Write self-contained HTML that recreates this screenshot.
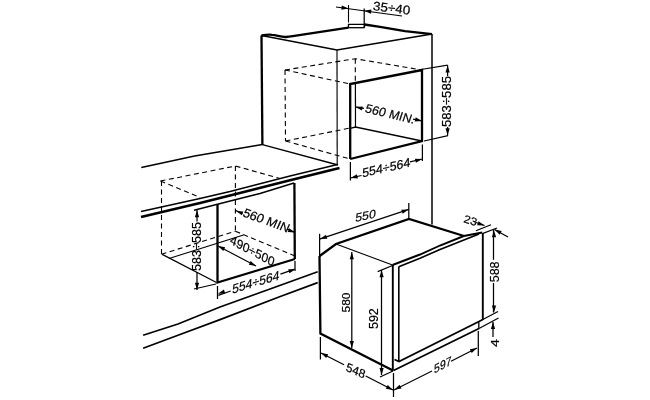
<!DOCTYPE html>
<html><head><meta charset="utf-8"><style>
html,body{margin:0;padding:0;background:#fff;width:650px;height:400px;overflow:hidden}
svg{display:block;will-change:transform}
path{fill:none;stroke:#000;stroke-linecap:butt;stroke-linejoin:miter}
path.ah{fill:#000;stroke:none}
text{font-family:"Liberation Sans",sans-serif;fill:#000;stroke:#000;stroke-width:0.2px;text-anchor:start}
</style></head><body>
<svg width="650" height="400" viewBox="0 0 650 400">
<path d="M348.5 27.7 L348.5 24.3 L364.5 24.3 L364.5 27.7" stroke-width="1.3"/>
<path d="M348.5 27.7 L364.5 27.7" stroke-width="1.3"/>
<path d="M364.5 24.5 L380 26.8 L405 31.2 L432 34.2" stroke-width="2.3"/>
<path d="M261.5 35.5 L337 50 L432 34" stroke-width="1.4"/>
<path d="M261.5 35.5 L262.4 145" stroke-width="2.3"/>
<path d="M337 50 L337.2 165" stroke-width="1.15"/>
<path d="M432 34 L432 224.5" stroke-width="1.5"/>
<path d="M350.2 159 L350.2 84 L422 70 L422 141 L350.2 159" stroke-width="2.3"/>
<path d="M355.4 84 L355.5 127" stroke-width="1.2"/>
<path d="M350.2 128.3 L355.5 127 L422 141" stroke-width="1.3"/>
<path d="M285 70 L285.5 141" stroke-width="1.1" stroke-dasharray="5 3.5"/>
<path d="M285 70 L355.3 58.7 L422 70" stroke-width="1.1" stroke-dasharray="5 3.5"/>
<path d="M285 70 L350.2 84" stroke-width="1.1" stroke-dasharray="5 3.5"/>
<path d="M355.3 58.7 L355.3 84" stroke-width="1.1" stroke-dasharray="5 3.5"/>
<path d="M285.5 141 L350.2 128" stroke-width="1.1" stroke-dasharray="5 3.5"/>
<path d="M285.5 141 L350.2 159" stroke-width="1.1" stroke-dasharray="5 3.5"/>
<path d="M336 7 L402 16" stroke-width="1.25"/>
<path d="M348.5 5 L348.5 22.5" stroke-width="1.1"/>
<path d="M364.2 8.5 L364.2 27" stroke-width="1.25"/>
<path d="M355.3 106.8 L364 108.3" stroke-width="1.25"/>
<path d="M413 119.2 L422 121" stroke-width="1.25"/>
<path d="M421 69.5 L447.6 65.2" stroke-width="1.25"/>
<path d="M424 141 L448 135.6" stroke-width="1.25"/>
<path d="M447.6 65.2 L447.6 76" stroke-width="1.25"/>
<path d="M447.6 127 L447.6 135.6" stroke-width="1.25"/>
<path d="M350.4 162 L350.4 180.5" stroke-width="1.25"/>
<path d="M422.4 144.5 L422.4 161" stroke-width="1.25"/>
<path d="M350.4 178 L361.5 175.5" stroke-width="1.25"/>
<path d="M410 161.8 L422.4 159" stroke-width="1.25"/>
<path d="M141.3 167.5 L194.6 156 L262.4 144.6" stroke-width="1.5"/>
<path d="M262.4 144.6 L338 165" stroke-width="1.4"/>
<path d="M141 211.5 L200 198.5 L230 191.5 L290 176 L337.5 164.5" stroke-width="1.4"/>
<path d="M141 217 L200 203 L230 195.5 L290 180.3 L339.5 168" stroke-width="2.7"/>
<path d="M194 210.2 L240 198.5 L260 193.5 L294 183" stroke-width="1.4"/>
<path d="M217.5 204 L217.5 282.5 L295 259" stroke-width="2.3"/>
<path d="M294.4 183 L294.8 259" stroke-width="2.3"/>
<path d="M160.5 181 L235.5 166" stroke-width="1.1" stroke-dasharray="5 3.5"/>
<path d="M160.5 181 L200 197.4" stroke-width="1.1" stroke-dasharray="5 3.5"/>
<path d="M235.5 166 L280 178.5" stroke-width="1.1" stroke-dasharray="5 3.5"/>
<path d="M161.5 181 L161.5 254.2" stroke-width="1.1" stroke-dasharray="5 3.5"/>
<path d="M235.4 166 L235.4 231.2" stroke-width="1.1" stroke-dasharray="5 3.5"/>
<path d="M161.5 254.2 L235.4 231.2" stroke-width="1.1" stroke-dasharray="5 3.5"/>
<path d="M169 258.5 L243.5 235" stroke-width="1.2"/>
<path d="M235.4 231.2 L295 256" stroke-width="1.1" stroke-dasharray="5 3.5"/>
<path d="M162.2 254.4 L216.5 282.5" stroke-width="1.25"/>
<path d="M197 210 L197 221.5" stroke-width="1.25"/>
<path d="M197 272 L197 290" stroke-width="1.25"/>
<path d="M194 289 L216 284" stroke-width="1.25"/>
<path d="M235.4 210.2 L242.4 213.5" stroke-width="1.25"/>
<path d="M287 229 L294.6 232.3" stroke-width="1.25"/>
<path d="M218 246 L256 266" stroke-width="1.25"/>
<path d="M217.5 286 L217.5 299" stroke-width="1.25"/>
<path d="M295 261 L295 271" stroke-width="1.25"/>
<path d="M218.3 295.3 L230.7 291" stroke-width="1.25"/>
<path d="M280.4 274.2 L294.7 269.2" stroke-width="1.25"/>
<path d="M143.1 335.3 L178 324 L220 307 L270 289 L317.7 271.8" stroke-width="1.7"/>
<path d="M143.1 348.2 L178 335.3 L220 319.6 L279.6 296.8 L317.7 282.6" stroke-width="1.7"/>
<path d="M319.6 256 L336 244 L409 219 L464 236" stroke-width="2.3"/>
<path d="M319.5 256 L320.4 333.6 L393 370.5" stroke-width="2.3"/>
<path d="M336 244 L392.5 265" stroke-width="1.2"/>
<path d="M392.8 265 L392.8 370.5" stroke-width="1.9"/>
<path d="M398.8 266.5 L398.8 361" stroke-width="1.6"/>
<path d="M392.5 265 L420 254.5 L440 245.5 L463.8 236 L482.3 232.5" stroke-width="1.9"/>
<path d="M398.8 266.8 L420 258.2 L440 249.5 L479 234" stroke-width="1.7"/>
<path d="M482.8 233 L482.8 320" stroke-width="1.9"/>
<path d="M394.5 359.5 L399 361.5 L479 321.5 L482.8 319.5" stroke-width="1.8"/>
<path d="M393.5 370.5 L479 328.5" stroke-width="1.8"/>
<path d="M478.8 321.5 L478.8 328.5" stroke-width="1.3"/>
<path d="M319.6 256 L319.6 233.8" stroke-width="1.25"/>
<path d="M408.8 219 L408.8 203" stroke-width="1.25"/>
<path d="M319.6 239.2 L408.8 209.3" stroke-width="1.25"/>
<path d="M351.8 252 L351.8 348" stroke-width="1.25"/>
<path d="M377.7 271.6 L392.5 265.5" stroke-width="1.25"/>
<path d="M380 377 L393 371" stroke-width="1.25"/>
<path d="M381.5 270 L381.5 375" stroke-width="1.25"/>
<path d="M320.4 337 L320.4 359.5" stroke-width="1.25"/>
<path d="M393.5 373 L393.5 397" stroke-width="1.25"/>
<path d="M321 353 L344 364.8" stroke-width="1.25"/>
<path d="M365.7 376 L393 390" stroke-width="1.25"/>
<path d="M478.3 331 L478.3 356" stroke-width="1.25"/>
<path d="M394 390 L432 371" stroke-width="1.25"/>
<path d="M451 361.2 L477 348" stroke-width="1.25"/>
<path d="M476 230.7 L491 224.7" stroke-width="1.2"/>
<path d="M483 233.4 L497 228" stroke-width="1.2"/>
<path d="M476 222.5 L484.5 225.5" stroke-width="1.25"/>
<path d="M494.5 229.5 L508 237" stroke-width="1.25"/>
<path d="M493.5 230 L493.5 259.8" stroke-width="1.25"/>
<path d="M493.5 283 L493.5 312.5" stroke-width="1.25"/>
<path d="M482.8 319.5 L498 311.5" stroke-width="1.25"/>
<path d="M479 328.5 L498.5 318" stroke-width="1.25"/>
<path d="M493 322 L493 337" stroke-width="1.25"/>
<path d="M261.5 35.5 C265.5 34.8 269 34.3 272 34.8 C277 35.2 281 37.3 286 37 C290 36.8 292 36.2 296 35.6 L348.5 27.7" stroke-width="2.3"/>
<path class="ah" d="M348.5 8.6 L341.29 9.78 L341.83 5.62 Z"/>
<path class="ah" d="M364.2 10.8 L371.41 9.61 L370.88 13.77 Z"/>
<path class="ah" d="M355.5 107 L362.78 106.41 L361.91 110.51 Z"/>
<path class="ah" d="M422 121 L414.7 121.38 L415.7 117.3 Z"/>
<path class="ah" d="M447.6 65.6 L449.7 72.6 L445.5 72.6 Z"/>
<path class="ah" d="M447.6 135.3 L445.5 128.3 L449.7 128.3 Z"/>
<path class="ah" d="M350.6 178 L356.91 174.31 L357.9 178.39 Z"/>
<path class="ah" d="M422.2 159 L415.92 162.74 L414.9 158.66 Z"/>
<path class="ah" d="M197 210.3 L199.1 217.3 L194.9 217.3 Z"/>
<path class="ah" d="M197 289.7 L194.9 282.7 L199.1 282.7 Z"/>
<path class="ah" d="M236 211 L243.3 211.38 L241.89 215.33 Z"/>
<path class="ah" d="M295 232.5 L287.7 232.12 L289.11 228.17 Z"/>
<path class="ah" d="M218 246 L225.2 247.25 L223.32 251.01 Z"/>
<path class="ah" d="M256 266 L248.8 264.75 L250.68 260.99 Z"/>
<path class="ah" d="M217.9 293.7 L223.91 289.54 L225.21 293.54 Z"/>
<path class="ah" d="M295.5 269.2 L289.42 273.26 L288.19 269.24 Z"/>
<path class="ah" d="M320 239.1 L325.96 234.87 L327.3 238.85 Z"/>
<path class="ah" d="M408.6 209.4 L402.64 213.63 L401.3 209.65 Z"/>
<path class="ah" d="M351.8 252.2 L353.9 259.2 L349.7 259.2 Z"/>
<path class="ah" d="M351.8 348 L349.7 341 L353.9 341 Z"/>
<path class="ah" d="M381.6 270.2 L383.7 277.2 L379.5 277.2 Z"/>
<path class="ah" d="M381.6 375 L379.5 368 L383.7 368 Z"/>
<path class="ah" d="M321 353 L328.19 354.33 L326.26 358.07 Z"/>
<path class="ah" d="M393 390 L385.81 388.67 L387.74 384.93 Z"/>
<path class="ah" d="M394.3 389.8 L399.59 384.76 L401.49 388.5 Z"/>
<path class="ah" d="M477 348 L471.68 353.01 L469.8 349.25 Z"/>
<path class="ah" d="M484.5 225.5 L477.2 225.28 L478.52 221.29 Z"/>
<path class="ah" d="M494.5 229.5 L501.66 230.97 L499.67 234.67 Z"/>
<path class="ah" d="M494 230.3 L496.1 237.3 L491.9 237.3 Z"/>
<path class="ah" d="M494 312.5 L491.9 305.5 L496.1 305.5 Z"/>
<path class="ah" d="M493 322 L495.1 329 L490.9 329 Z"/>
<text x="0" y="0" font-size="12" transform="matrix(1.1157,0.1422,-0.1332,1.0296,372.5901,9.9350)">35÷40</text>
<text x="0" y="0" font-size="12" transform="matrix(1.0168,0.2399,-0.3270,0.9811,364.2115,112.0848)">560 MIN.</text>
<text x="0" y="0" font-size="12" transform="matrix(0.0000,-1.0954,1.0417,-0.0000,451.2000,127.0263)">583÷585</text>
<text x="0" y="0" font-size="12" transform="matrix(1.0328,-0.2336,-0.0000,1.0538,362.2038,177.4123)">554÷564</text>
<text x="0" y="0" font-size="12" transform="matrix(0.0000,-1.0516,0.9993,-0.0000,201.0000,271.0053)">583÷585</text>
<text x="0" y="0" font-size="12" transform="matrix(1.0047,0.3691,-0.4239,0.9448,241.9173,215.9227)">560 MIN</text>
<text x="0" y="0" font-size="12" transform="matrix(0.9371,0.4969,-0.3028,0.9932,229.2419,243.3632)">490÷500</text>
<text x="0" y="0" font-size="12" transform="matrix(1.0132,-0.3035,-0.0606,1.0901,232.1132,293.6458)">554÷564</text>
<text x="0" y="0" font-size="12" transform="matrix(1.0224,-0.2255,-0.0908,0.9932,355.0088,222.1083)">550</text>
<text x="0" y="0" font-size="12" transform="matrix(0.0000,-0.9962,0.9084,-0.0000,349.8000,312.4786)">580</text>
<text x="0" y="0" font-size="12" transform="matrix(0.0000,-1.0403,1.0053,-0.0000,378.0000,328.9998)">592</text>
<text x="0" y="0" font-size="12" transform="matrix(0.9359,0.4154,-0.2725,0.9690,345.3503,370.5004)">548</text>
<text x="0" y="0" font-size="12" transform="matrix(0.8713,-0.4752,-0.0000,1.0296,434.0814,373.7283)">597</text>
<text x="0" y="0" font-size="12" transform="matrix(0.9659,0.3110,-0.2423,0.8721,463.1171,222.0123)">23</text>
<text x="0" y="0" font-size="12" transform="matrix(0.0000,-1.0358,1.0417,-0.0000,498.6000,282.1977)">588</text>
<text x="0" y="0" font-size="12" transform="matrix(0.0000,-1.1907,0.9084,-0.0000,498.5000,346.9279)">4</text>
</svg></body></html>
